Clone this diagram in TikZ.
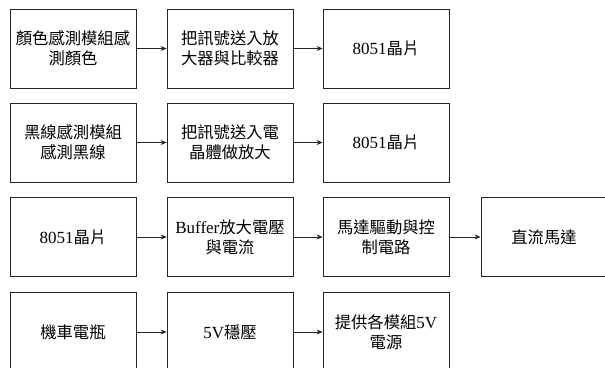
\documentclass[tikz,border=0pt]{standalone}
\usepackage{fontspec}
\setmainfont{Liberation Serif}
\newfontfamily\cjk{Noto Sans CJK TC}[Scale=0.96]
\usetikzlibrary{arrows.meta}
\tikzset{
  blk/.style={draw=black!85, line width=0.8pt, minimum width=126pt, minimum height=79pt,
    inner sep=0pt, align=center, font=\fontsize{17}{20}\selectfont},
  conn/.style={draw=black!85, line width=0.7pt, -{Stealth[length=6pt,width=5pt]}}
}
\begin{document}
\begin{tikzpicture}[x=1pt,y=-1pt]
\useasboundingbox (0,0) rectangle (605,367);
\clip (0,0) rectangle (605,367);
% row 1
\node[blk] (a1) at (73,48.5) {{\cjk 顏色感測模組感}\\{\cjk 測顏色}};
\node[blk] (a2) at (230,48.5) {{\cjk 把訊號送入放}\\{\cjk 大器與比較器}};
\node[blk] (a3) at (386,48.5) {8051{\cjk 晶片}};
% row 2
\node[blk] (b1) at (73,142.5) {{\cjk 黑線感測模組}\\{\cjk 感測黑線}};
\node[blk] (b2) at (230,142.5) {{\cjk 把訊號送入電}\\{\cjk 晶體做放大}};
\node[blk] (b3) at (386,142.5) {8051{\cjk 晶片}};
% row 3
\node[blk] (c1) at (73,237) {8051{\cjk 晶片}};
\node[blk] (c2) at (230,237) {Buffer{\cjk 放大電壓}\\{\cjk 與電流}};
\node[blk] (c3) at (386,237) {{\cjk 馬達驅動與控}\\{\cjk 制電路}};
\node[blk] (c4) at (544,237) {{\cjk 直流馬達}};
% row 4
\node[blk] (d1) at (73,332) {{\cjk 機車電瓶}};
\node[blk] (d2) at (230,332) {5V{\cjk 穩壓}};
\node[blk] (d3) at (386,332) {{\cjk 提供各模組}5V\\{\cjk 電源}};
% connectors
\draw[conn] (a1) -- (a2);
\draw[conn] (a2) -- (a3);
\draw[conn] (b1) -- (b2);
\draw[conn] (b2) -- (b3);
\draw[conn] (c1) -- (c2);
\draw[conn] (c2) -- (c3);
\draw[conn] (c3) -- (c4);
\draw[conn] (d1) -- (d2);
\draw[conn] (d2) -- (d3);
\end{tikzpicture}
\end{document}
